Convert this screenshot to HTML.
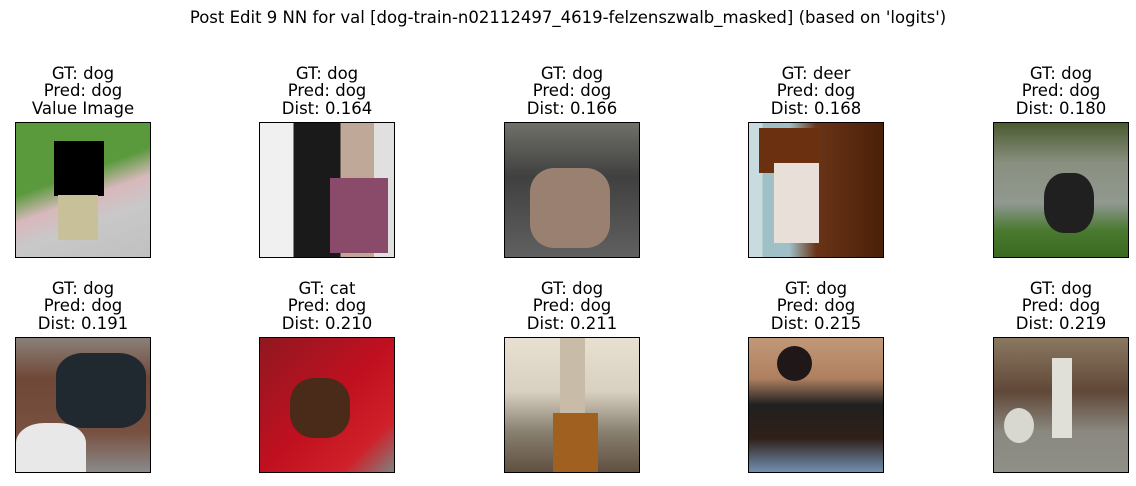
<!DOCTYPE html>
<html><head><meta charset="utf-8"><style>
body{margin:0;width:1136px;height:486px;background:#fff;position:relative;overflow:hidden;font-family:"DejaVu Sans","Liberation Sans",sans-serif;color:#000}
.t{position:absolute;text-align:center;font-size:16.5px;line-height:17.3px;width:240px;white-space:nowrap}
.b{position:absolute;width:134px;height:134px;border:1px solid #000;box-sizing:content-box;overflow:hidden}
.b div{position:absolute}
.h{position:absolute;top:8px;left:0;width:1136px;text-align:center;font-size:16.5px}
</style></head><body>
<div class="h">Post Edit 9 NN for val [dog-train-n02112497_4619-felzenszwalb_masked] (based on 'logits')</div>

<div class="t" style="left:-37px;top:65px">GT: dog<br>Pred: dog<br>Value Image</div>
<div class="t" style="left:207px;top:65px">GT: dog<br>Pred: dog<br>Dist: 0.164</div>
<div class="t" style="left:452px;top:65px">GT: dog<br>Pred: dog<br>Dist: 0.166</div>
<div class="t" style="left:696px;top:65px">GT: deer<br>Pred: dog<br>Dist: 0.168</div>
<div class="t" style="left:941px;top:65px">GT: dog<br>Pred: dog<br>Dist: 0.180</div>

<div class="t" style="left:-37px;top:280px">GT: dog<br>Pred: dog<br>Dist: 0.191</div>
<div class="t" style="left:207px;top:280px">GT: cat<br>Pred: dog<br>Dist: 0.210</div>
<div class="t" style="left:452px;top:280px">GT: dog<br>Pred: dog<br>Dist: 0.211</div>
<div class="t" style="left:696px;top:280px">GT: dog<br>Pred: dog<br>Dist: 0.215</div>
<div class="t" style="left:941px;top:280px">GT: dog<br>Pred: dog<br>Dist: 0.219</div>

<!-- row 1 -->
<div class="b" style="left:15px;top:122px;background:linear-gradient(160deg,#5a9a3c 0%,#5a9a3c 40%,#d8b8bc 55%,#c8c8c8 70%,#c0c0c0 100%)">
<div style="left:38px;top:18px;width:50px;height:55px;background:#000"></div>
<div style="left:42px;top:72px;width:40px;height:45px;background:#c8c098"></div></div>
<div class="b" style="left:259px;top:122px;background:linear-gradient(90deg,#f0f0f0 0 25%,#1a1a1a 25% 60%,#c0a898 60% 85%,#e0e0e0 85%)">
<div style="left:70px;top:55px;width:58px;height:75px;background:#8a4a6a"></div></div>
<div class="b" style="left:504px;top:122px;background:linear-gradient(180deg,#707068 0%,#404040 40%,#606060 100%)">
<div style="left:25px;top:45px;width:80px;height:80px;background:#9a8070;border-radius:30%"></div></div>
<div class="b" style="left:748px;top:122px;background:linear-gradient(90deg,#c8dce0 0 10%,#a0c0c8 10% 30%,#6a3418 50%,#4a2008 100%)">
<div style="left:10px;top:5px;width:60px;height:45px;background:#6a3010"></div>
<div style="left:25px;top:40px;width:45px;height:80px;background:#e8e0d8"></div></div>
<div class="b" style="left:993px;top:122px;background:linear-gradient(180deg,#4a5a30 0%,#8a9080 30%,#909890 60%,#4a7a30 80%,#3a6a20 100%)">
<div style="left:50px;top:50px;width:50px;height:60px;background:#202020;border-radius:40%"></div></div>

<!-- row 2 -->
<div class="b" style="left:15px;top:337px;background:linear-gradient(180deg,#8a8078 0%,#704838 30%,#785040 70%,#8a8a8a 100%)">
<div style="left:40px;top:15px;width:90px;height:75px;background:#202830;border-radius:30%"></div>
<div style="left:0;top:85px;width:70px;height:50px;background:#e8e8e8;border-radius:40% 40% 0 0"></div></div>
<div class="b" style="left:259px;top:337px;background:linear-gradient(135deg,#901820 0%,#c01020 50%,#d02028 80%,#808080 100%)">
<div style="left:30px;top:40px;width:60px;height:60px;background:#4a2a18;border-radius:40%"></div></div>
<div class="b" style="left:504px;top:337px;background:linear-gradient(180deg,#e8e0d0 0%,#d8d0c0 40%,#888070 70%,#605040 100%)">
<div style="left:55px;top:0;width:25px;height:75px;background:#c8bca8"></div>
<div style="left:48px;top:75px;width:45px;height:60px;background:#a06020"></div></div>
<div class="b" style="left:748px;top:337px;background:linear-gradient(180deg,#c09878 0%,#b08060 30%,#202020 50%,#302018 75%,#7090b0 100%)">
<div style="left:28px;top:8px;width:35px;height:35px;background:#201818;border-radius:50%"></div></div>
<div class="b" style="left:993px;top:337px;background:linear-gradient(180deg,#8a7860 0%,#604838 40%,#8a8880 70%,#909088 100%)">
<div style="left:58px;top:20px;width:20px;height:80px;background:#e0e0d8"></div>
<div style="left:10px;top:70px;width:30px;height:35px;background:#d8d8d0;border-radius:50%"></div></div>
</body></html>
